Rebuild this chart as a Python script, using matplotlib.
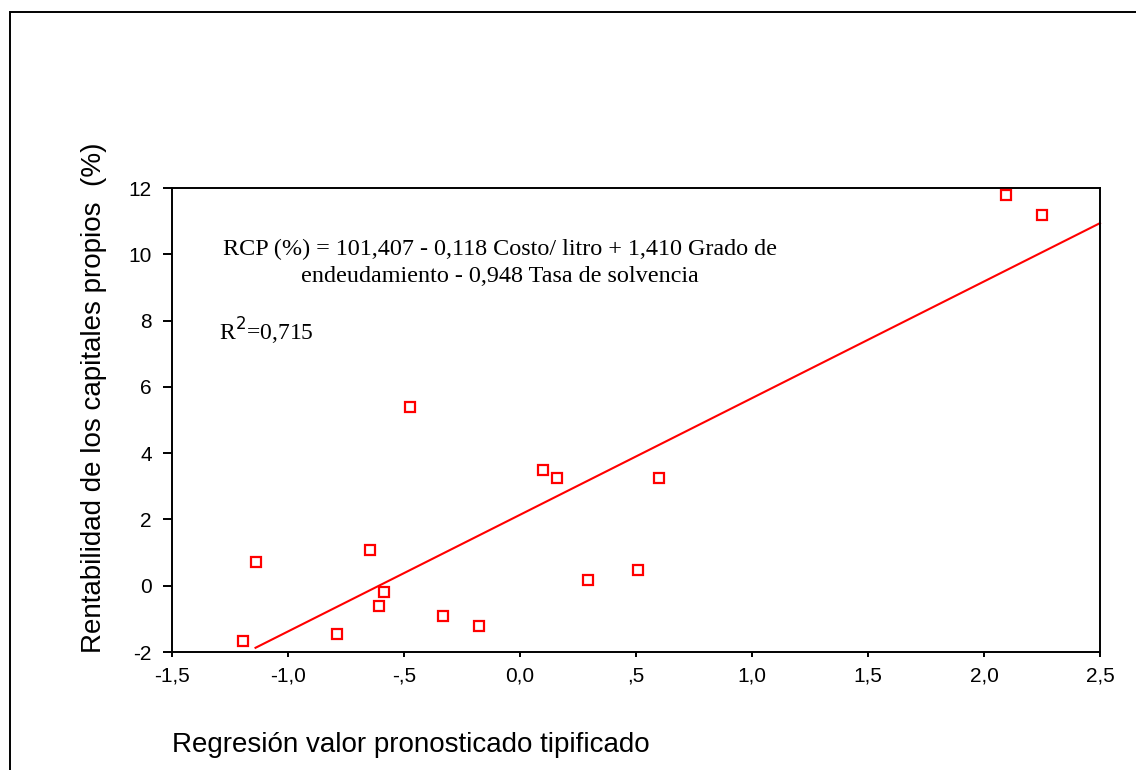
import numpy as np
import matplotlib.pyplot as plt
from matplotlib.patches import Rectangle

# standardized predicted value vs. observed return on equity
pred_std = [-1.194, -1.138, -0.789, -0.647, -0.608, -0.586, -0.474, -0.332,
            -0.177, 0.099, 0.159, 0.293, 0.509, 0.599, 2.095, 2.250]
rcp = [-1.67, 0.71, -1.46, 1.08, -0.61, -0.19, 5.39, -0.91,
       -1.22, 3.49, 3.25, 0.17, 0.47, 3.25, 11.79, 11.19]

# fitted line
fit_intercept = 2.14
fit_slope = 3.52
fit_x = [-1.14, 2.5]

xticks = [-1.5, -1.0, -0.5, 0.0, 0.5, 1.0, 1.5, 2.0, 2.5]
xticklabels = ["-1,5", "-1,0", "-,5", "0,0", ",5", "1,0", "1,5", "2,0", "2,5"]
yticks = [-2, 0, 2, 4, 6, 8, 10, 12]
yticklabels = ["-2", "0", "2", "4", "6", "8", "10", "12"]

W, H = 1136, 770
fig = plt.figure(figsize=(W / 100, H / 100), dpi=100)
plt.rcParams['font.family'] = ['Liberation Sans', 'DejaVu Sans']

ax = fig.add_axes([172 / W, 1 - 652 / H, (1100 - 172) / W, (652 - 188) / H])

xs = np.array(fit_x)
ax.plot(xs, fit_intercept + fit_slope * xs, color="red", lw=1.5, clip_on=False)
ax.plot(pred_std, rcp, "s", ms=7.5, mfc="white", mec="red", mew=1.6,
        clip_on=False, zorder=3)

ax.set_xlim(-1.5, 2.5)
ax.set_ylim(-2, 12)
ax.set_xticks(xticks)
ax.set_xticklabels(xticklabels)
ax.set_yticks(yticks)
ax.set_yticklabels(yticklabels)
ax.tick_params(direction="out", width=1.4, labelsize=15)
ax.tick_params(axis="x", length=3.8, pad=7)
ax.tick_params(axis="y", length=6.5, pad=8)
for s in ax.spines.values():
    s.set_linewidth(1.4)

fig.text(500 / W, 1 - 263 / H,
         "RCP (%) = 101,407 - 0,118 Costo/ litro + 1,410 Grado de\n"
         "endeudamiento - 0,948 Tasa de solvencia",
         ha="center", va="center", fontsize=17.4, family="Liberation Serif",
         linespacing=1.42)
fig.text(219 / W, 1 - 331 / H, "R$^2$=0,715", ha="left", va="center",
         fontsize=17, family="Liberation Serif")

fig.text(172 / W, 1 - 745 / H, "Regresión valor pronosticado tipificado",
         ha="left", va="center", fontsize=20)
fig.text(94 / W, 1 - 398 / H, "Rentabilidad de los capitales propios  (%)",
         ha="center", va="center", rotation=90, fontsize=20)

# outer frame
fig.patches.append(Rectangle((10 / W, -0.1), 1.2, 1 - 12 / H + 0.1,
                             transform=fig.transFigure, fill=False,
                             edgecolor="black", lw=1.4))

fig.savefig("out.png", dpi=100)
